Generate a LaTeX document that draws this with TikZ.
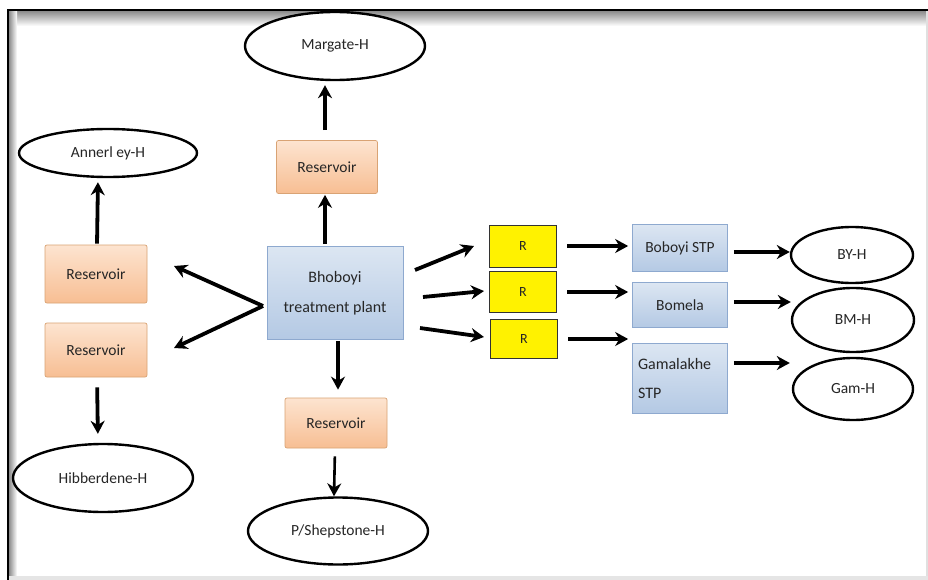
\documentclass[tikz,border=0pt]{standalone}
\usepackage{fontspec}
\setmainfont{Carlito}
\usetikzlibrary{arrows.meta,shapes.geometric,calc}
\definecolor{resTop}{HTML}{FDE4D0}
\definecolor{resBot}{HTML}{F7BE93}
\definecolor{resLine}{HTML}{D9A374}
\definecolor{bluTop}{HTML}{DCE6F2}
\definecolor{bluBot}{HTML}{B4C9E4}
\definecolor{bluLine}{HTML}{8EA9CF}
\definecolor{txt}{HTML}{262626}
\tikzset{
  resbox/.style={rectangle, rounded corners=2pt, draw=resLine, line width=0.7pt,
    top color=resTop, bottom color=resBot, minimum width=102pt, minimum height=54pt,
    font=\fontsize{15.5}{18}\selectfont, text=txt},
  blubox/.style={rectangle, draw=bluLine, line width=0.7pt,
    top color=bluTop, bottom color=bluBot, font=\fontsize{15.5}{18}\selectfont, text=txt},
  rbox/.style={rectangle, draw=black!80, line width=1pt, fill=yellow,
    minimum width=67pt, minimum height=42pt, font=\fontsize{14}{16}\selectfont, text=txt},
  oval/.style={ellipse, draw=black, line width=2.4pt, fill=white, inner sep=0pt,
    font=\fontsize{15.5}{18}\selectfont, text=txt},
  arr/.style={draw=black, line width=3.8pt, -{Stealth[length=13pt,width=14pt]}}
}
\begin{document}
\begin{tikzpicture}[x=1pt,y=-1pt]
\useasboundingbox (0,0) rectangle (928,580);
\fill[white] (0,0) rectangle (928,580);
% frame
\shade[top color=black!45, bottom color=white] (9,11) rectangle (928,26);
\shade[left color=black!45, right color=white] (9,11) rectangle (17,580);
\fill[black] (7,9) rectangle (928,11.5);
\fill[black] (6.5,9) rectangle (9,580);
\fill[black!12] (925.5,11) rectangle (928,580);
\fill[black!10] (9,576) rectangle (928,580);

% nodes
\node[oval, minimum width=180pt, minimum height=68pt] (margate) at (335,46) {Margate-H};
\node[resbox, minimum width=101pt, minimum height=53pt] (resT) at (327,167) {Reservoir};
\node[oval, minimum width=178pt, minimum height=48pt] (anner) at (108,153) {Annerl ey-H};
\node[resbox, minimum height=58pt] (resL1) at (96,274) {Reservoir};
\node[resbox] (resL2) at (96,350) {Reservoir};
\node[blubox, minimum width=136pt, minimum height=93pt, align=center,
  font=\fontsize{16}{30}\selectfont] (bh) at (335,293) {Bhoboyi\\treatment plant};
\node[resbox, minimum height=50pt] (resB) at (336,423) {Reservoir};
\node[oval, minimum width=180pt, minimum height=68pt] (hib) at (103,478) {Hibberdene-H};
\node[oval, minimum width=180pt, minimum height=67pt] (shep) at (338,531) {P/Shepstone-H};

\node[rbox] (r1) at (523,246) {R};
\node[rbox, minimum height=41pt] (r2) at (523,292) {R};
\node[rbox, minimum height=39pt] (r3) at (524,339) {R};

\node[blubox, minimum width=95pt, minimum height=47pt] (stp1) at (680,248) {Boboyi STP};
\node[blubox, minimum width=95pt, minimum height=45pt] (stp2) at (680,305) {Bomela};
\node[blubox, minimum width=95pt, minimum height=70pt, align=left, text width=84pt,
  inner sep=2pt, font=\fontsize{16}{29}\selectfont] (stp3) at (680,378) {Gamalakhe\\STP};

\node[oval, minimum width=122pt, minimum height=56pt] (by) at (852,255) {BY-H};
\node[oval, minimum width=122pt, minimum height=64pt] (bm) at (853,320) {BM-H};
\node[oval, minimum width=120pt, minimum height=62pt] (gam) at (853,389) {Gam-H};

% coordinates for free ends
\coordinate (split) at (263,306);
\coordinate (l1) at (174,266);
\coordinate (l2) at (174,348);
\coordinate (a1s) at (415,270);
\coordinate (a1e) at (474,246);
\coordinate (a2s) at (423,297);
\coordinate (a2e) at (484,291);
\coordinate (a3s) at (420,328);
\coordinate (a3e) at (484,337);

% connectors
\draw[arr, shorten <=10pt, shorten >=4pt] ([xshift=-2pt]resT.north) -- ([xshift=-10pt]margate.south);
\draw[arr, shorten <=2pt, shorten >=1pt] ([xshift=-10pt]bh.north) -- ([xshift=-2pt]resT.south);
\draw[arr, shorten <=1pt, shorten >=8pt] ([xshift=3pt]bh.south) -- ([xshift=2pt]resB.north);
\draw[arr, line width=2.6pt, shorten <=8pt, shorten >=0pt] ([xshift=-1pt]resB.south) -- ([xshift=-4pt]shep.north);
\draw[arr, shorten <=1pt, shorten >=4pt] ([xshift=1pt]resL1.north) -- ([xshift=-10pt]anner.south);
\draw[arr, shorten <=10pt, shorten >=9pt] ([xshift=1pt]resL2.south) -- ([xshift=-5pt]hib.north);
\draw[arr] (split) -- (l1);
\draw[arr] (split) -- (l2);
\draw[arr] (a1s) -- (a1e);
\draw[arr] (a2s) -- (a2e);
\draw[arr] (a3s) -- (a3e);
\draw[arr, shorten <=10pt, shorten >=4pt] (r1.east) -- (r1.east -| stp1.west);
\draw[arr, shorten <=10pt, shorten >=4pt] (r2.east) -- (r2.east -| stp2.west);
\draw[arr, shorten <=10pt, shorten >=4pt] (r3.east) -- (r3.east -| stp3.west);
\draw[arr, shorten <=6pt, shorten >=0pt] ([yshift=-4pt]stp1.east) -- ([yshift=-4pt]stp1.east -| by.west);
\draw[arr, shorten <=6pt, shorten >=0pt] ([yshift=3pt]stp2.east) -- ([yshift=3pt]stp2.east -| bm.west);
\draw[arr, shorten <=6pt, shorten >=2pt] ([yshift=15pt]stp3.east) -- ([yshift=15pt]stp3.east -| gam.west);
\end{tikzpicture}
\end{document}
